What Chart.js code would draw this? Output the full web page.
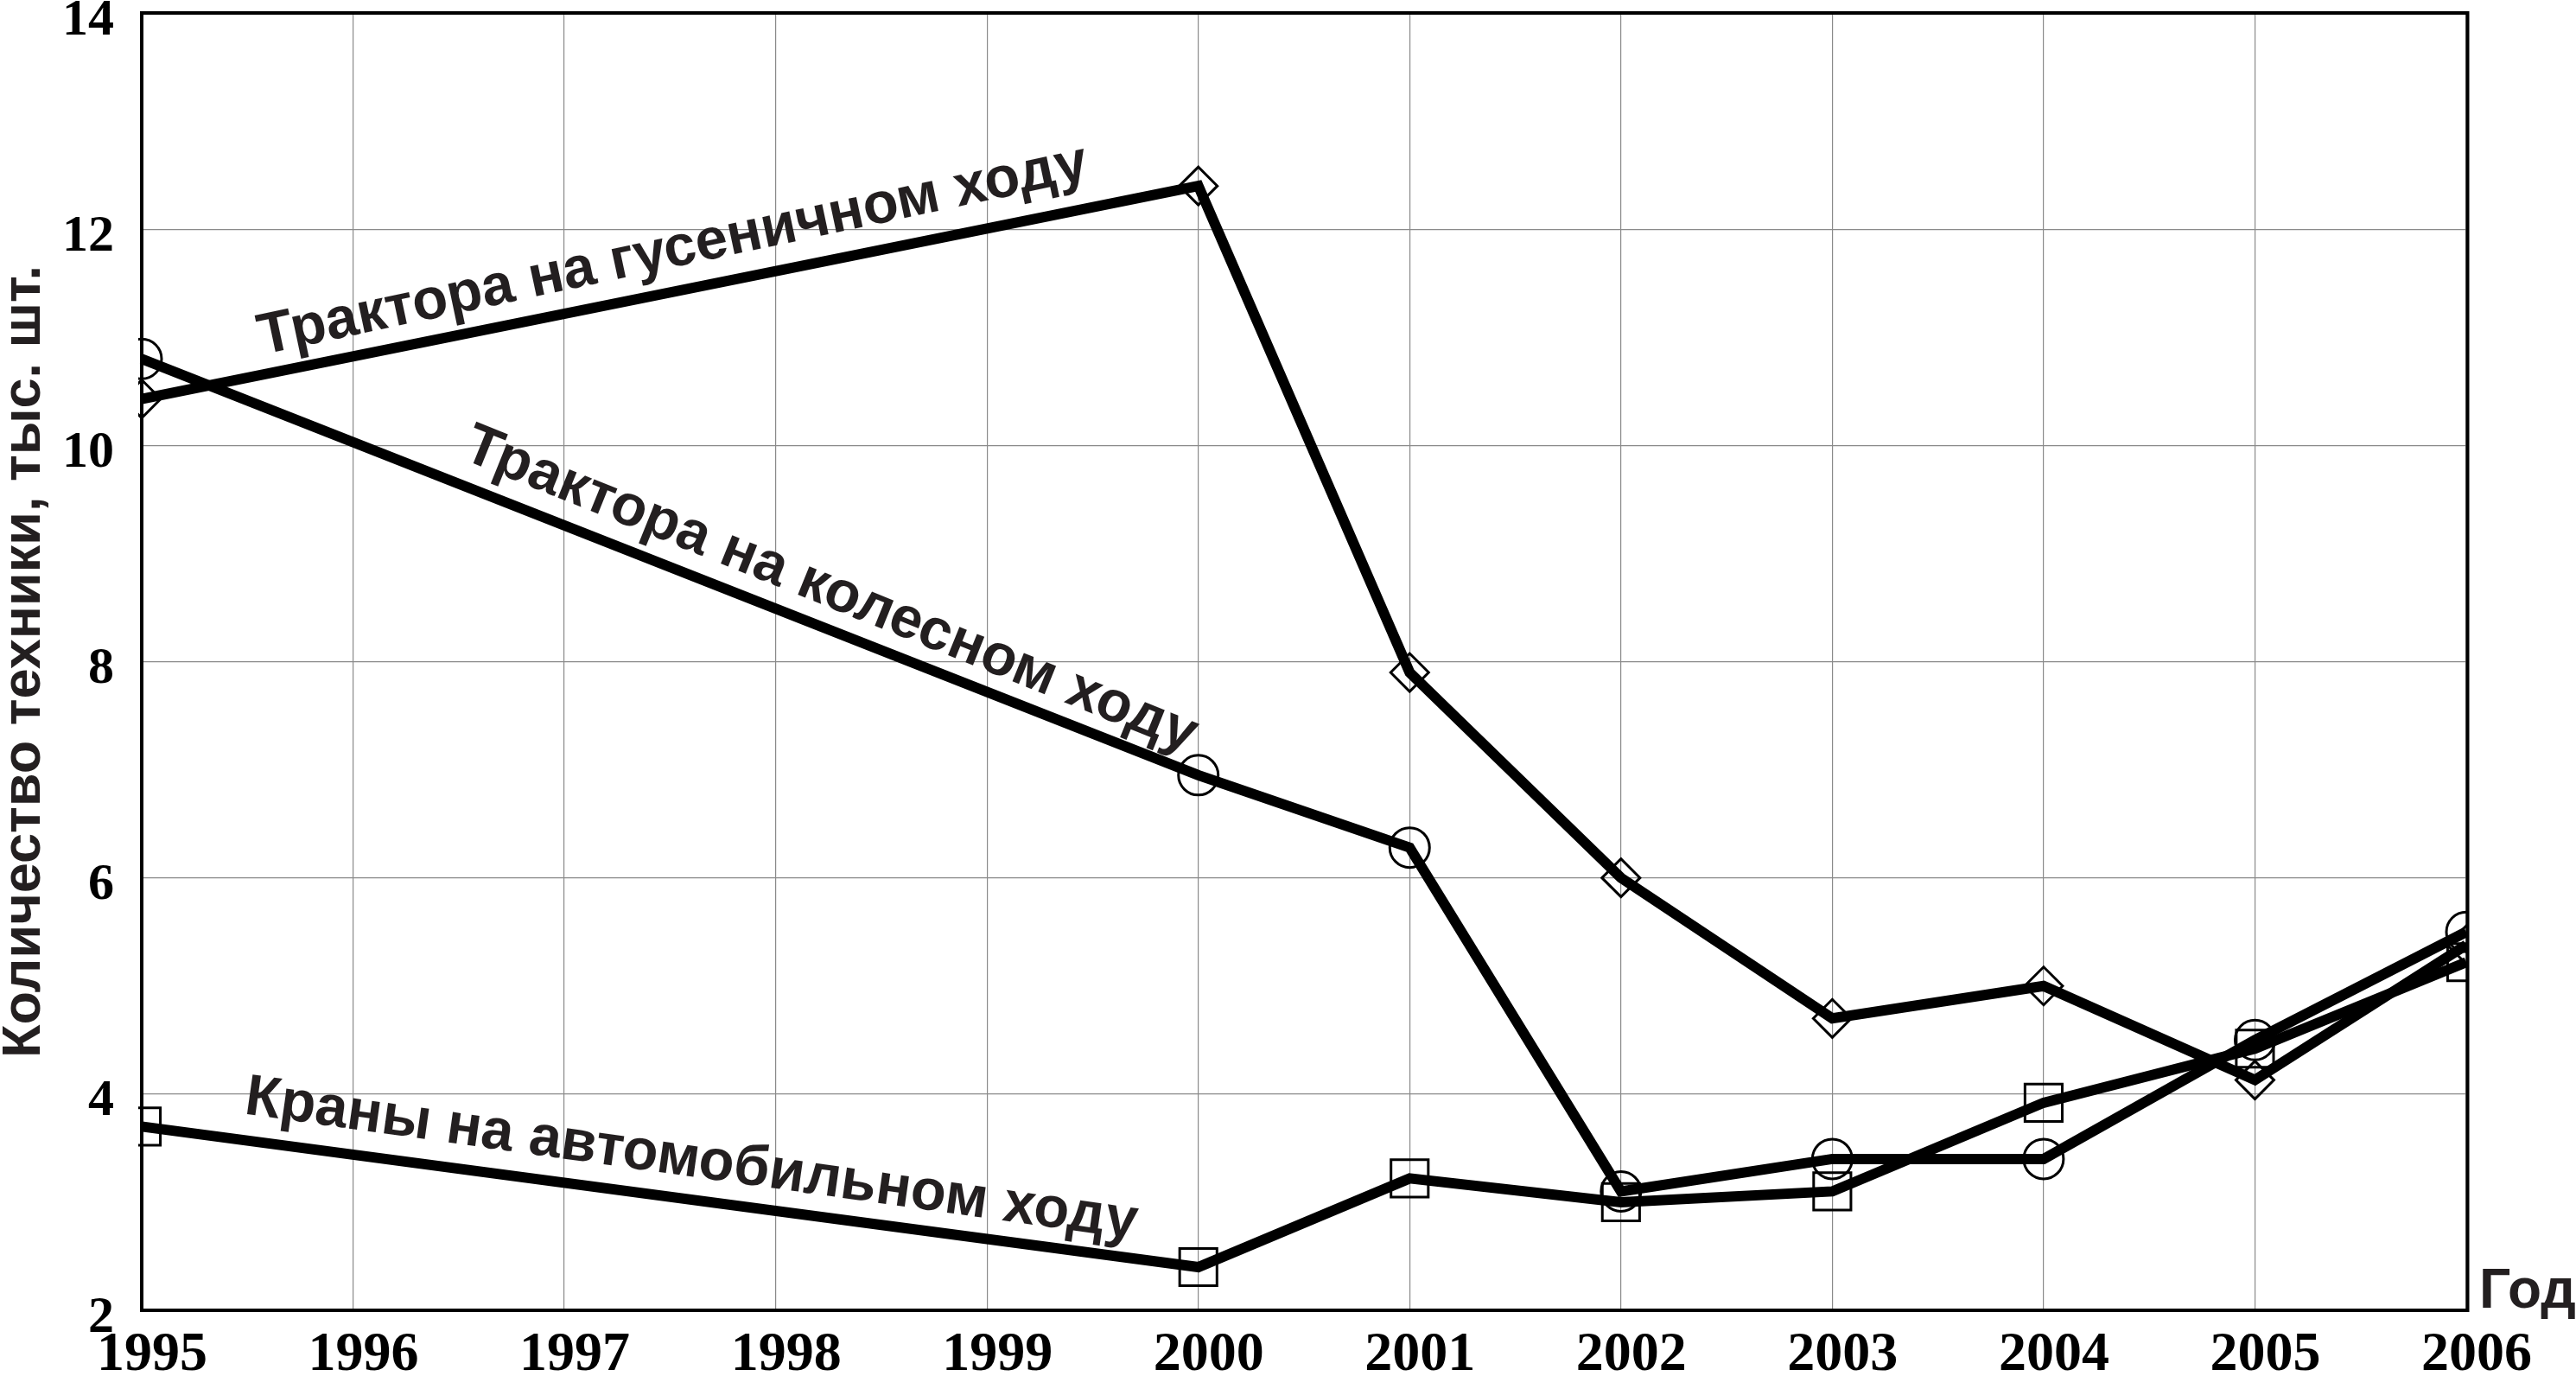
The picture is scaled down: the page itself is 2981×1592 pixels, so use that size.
<!DOCTYPE html>
<html>
<head>
<meta charset="utf-8">
<script src="https://cdn.jsdelivr.net/npm/chart.js@4"></script>
<style>
  html, body { margin: 0; padding: 0; background: #ffffff; }
  #wrap { width: 2981px; height: 1592px; }
</style>
</head>
<body>
<div id="wrap"><canvas id="c" width="2981" height="1592"></canvas></div>
<script>
// ---- data ----
const years = [1995, 2000, 2001, 2002, 2003, 2004, 2005, 2006];
const crawlerTractors = [10.43, 12.4, 7.9, 6.0, 4.7, 5.0, 4.13, 5.38];   // Трактора на гусеничном ходу
const wheeledTractors = [10.8, 6.95, 6.28, 3.1, 3.4, 3.4, 4.5, 5.5];     // Трактора на колесном ходу
const truckCranes     = [3.7, 2.4, 3.22, 3.0, 3.1, 3.92, 4.42, 5.22];    // Краны на автомобильном ходу
const xTickLabels = ['1995','1996','1997','1998','1999','2000','2001','2002','2003','2004','2005','2006'];
const yTickLabels = ['2','4','6','8','10','12','14'];
const seriesNames = ['Трактора на гусеничном ходу', 'Трактора на колесном ходу', 'Краны на автомобильном ходу'];
const yAxisTitle = 'Количество техники, тыс. шт.';
const xAxisTitle = 'Год';

// label anchors (data coordinates) and angles
const labelAnchors = [
  { x: 1995.57, y: 10.84, angle: -12 },
  { x: 1996.51, y: 9.88, angle: 22 },
  { x: 1995.48, y: 3.82, angle: 8 }
];

const toPoints = (vals) => years.map((yr, i) => ({ x: yr, y: vals[i] }));

const textColor = '#231f20';
const labelFont = 'bold 67px "Liberation Sans", Arial, sans-serif';

const framePlugin = {
  id: 'frame',
  beforeDatasetsDraw(chart) {
    const { ctx, chartArea: a } = chart;
    ctx.save();
    ctx.strokeStyle = '#000';
    ctx.lineWidth = 4;
    ctx.strokeRect(a.left, a.top, (a.right + 1.5) - a.left, a.bottom - a.top);
    ctx.restore();
  }
};

const labelPlugin = {
  id: 'seriesLabels',
  afterDatasetsDraw(chart) {
    const { ctx, chartArea: a } = chart;
    const xs = chart.scales.x, ys = chart.scales.y;
    ctx.save();
    ctx.fillStyle = textColor;
    ctx.font = labelFont;
    ctx.textBaseline = 'alphabetic';
    ctx.textAlign = 'left';
    labelAnchors.forEach((lab, i) => {
      const px = xs.getPixelForValue(lab.x);
      const py = ys.getPixelForValue(lab.y);
      ctx.save();
      ctx.translate(px, py);
      ctx.rotate(lab.angle * Math.PI / 180);
      ctx.fillText(seriesNames[i], 0, 0);
      ctx.restore();
    });
    ctx.font = 'bold 64px "Liberation Sans", Arial, sans-serif';
    ctx.fillText(xAxisTitle, a.right + 15, a.bottom - 3);
    ctx.restore();
  }
};

const common = {
  borderColor: '#000',
  borderWidth: 12,
  pointBorderColor: '#000',
  pointBackgroundColor: 'rgba(0,0,0,0)',
  pointBorderWidth: 3,
  tension: 0,
  clip: { left: 4, right: 1, top: 30, bottom: 30 }
};

new Chart(document.getElementById('c'), {
  type: 'line',
  data: {
    datasets: [
      Object.assign({ label: seriesNames[0], data: toPoints(crawlerTractors), pointStyle: 'rectRot', pointRadius: 22 }, common),
      Object.assign({ label: seriesNames[1], data: toPoints(wheeledTractors), pointStyle: 'circle', pointRadius: 23 }, common),
      Object.assign({ label: seriesNames[2], data: toPoints(truckCranes), pointStyle: 'rect', pointRadius: 30.5 }, common)
    ]
  },
  options: {
    responsive: false,
    devicePixelRatio: 1,
    animation: false,
    layout: { autoPadding: false, padding: { left: 0, top: 15, right: 127, bottom: 0 } },
    plugins: { legend: { display: false }, tooltip: { enabled: false } },
    scales: {
      x: {
        type: 'linear',
        min: Number(xTickLabels[0]),
        max: Number(xTickLabels[xTickLabels.length - 1]),
        afterBuildTicks(scale) { scale.ticks = xTickLabels.map(v => ({ value: Number(v) })); },
        afterFit(scale) { scale.height = 76; },
        border: { display: false },
        grid: { color: '#8a8a8a', lineWidth: 1.2, drawTicks: false },
        ticks: {
          autoSkip: false, maxRotation: 0, minRotation: 0,
          padding: 14, labelOffset: 12, color: '#000',
          font: { family: '"Liberation Serif", "Times New Roman", serif', weight: 'bold', size: 64, lineHeight: 1.2 },
          callback: (v) => String(v)
        }
      },
      y: {
        type: 'linear',
        min: Number(yTickLabels[0]),
        max: Number(yTickLabels[yTickLabels.length - 1]),
        afterBuildTicks(scale) { scale.ticks = yTickLabels.map(v => ({ value: Number(v) })); },
        afterFit(scale) { scale.width = 164; scale.paddingTop = 0; scale.paddingBottom = 0; },
        border: { display: false },
        grid: { color: '#8a8a8a', lineWidth: 1.2, drawTicks: false },
        ticks: {
          padding: 32, labelOffset: 9, color: '#000',
          font: { family: '"Liberation Serif", "Times New Roman", serif', weight: 'bold', size: 60, lineHeight: 1.2 },
          callback: (v) => String(v)
        },
        title: {
          display: true, text: yAxisTitle, color: textColor,
          padding: 0,
          font: { family: '"Liberation Sans", Arial, sans-serif', weight: 'bold', size: 63, lineHeight: 0.9 }
        }
      }
    }
  },
  plugins: [framePlugin, labelPlugin]
});
</script>
</body>
</html>
